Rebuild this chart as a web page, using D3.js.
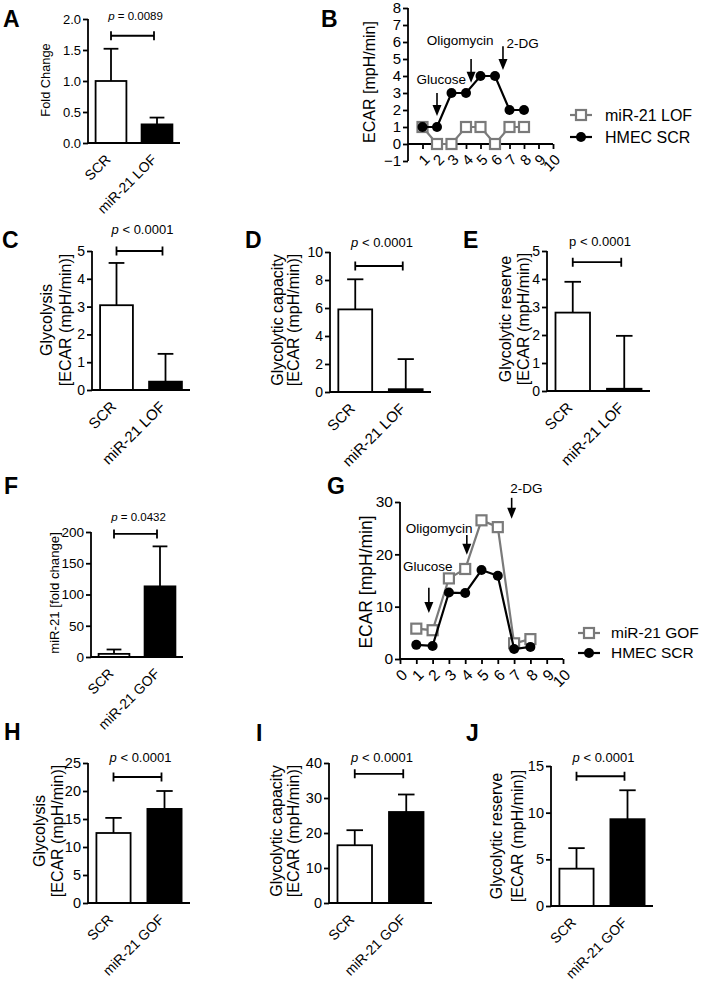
<!DOCTYPE html>
<html><head><meta charset="utf-8">
<script src="https://cdn.jsdelivr.net/npm/d3@7"></script>
<style>
body{margin:0;background:#fff;}
text{font-family:"Liberation Sans", Arial, sans-serif;fill:#000;}
</style></head><body>
<script>
// ---------------- data ----------------
const lofCategories = ["SCR", "miR-21 LOF"];
const gofCategories = ["SCR", "miR-21 GOF"];

const foldChangeMean = [1.0, 0.30];
const foldChangeSD   = [0.52, 0.11];
const glycolysisLOFMean = [3.05, 0.30];
const glycolysisLOFSD   = [1.52, 1.00];
const capacityLOFMean = [5.9, 0.2];
const capacityLOFSD   = [2.15, 2.15];
const reserveLOFMean = [2.8, 0.08];
const reserveLOFSD   = [1.1, 1.89];

const mir21GOFMean = [5, 113];
const mir21GOFSD   = [7, 64];
const glycolysisGOFMean = [12.5, 16.8];
const glycolysisGOFSD   = [2.7, 3.2];
const capacityGOFMean = [16.5, 26.0];
const capacityGOFSD   = [4.3, 5.0];
const reserveGOFMean = [4.0, 9.3];
const reserveGOFSD   = [2.2, 3.1];

const measurement = [1, 2, 3, 4, 5, 6, 7, 8];
const ecarLOF  = [1, 0, 0, 1, 1, 0, 1, 1];
const ecarSCRb = [1, 1, 3, 3, 4, 4, 2, 2];
const ecarGOF  = [5.8, 5.5, 15.4, 17.2, 26.5, 25.2, 3.0, 3.8];
const ecarSCRg = [2.7, 2.5, 12.7, 12.6, 17.0, 15.9, 1.9, 2.3];

const injections = ["Glucose", "Oligomycin", "2-DG"];
const injectionTimeB = [2, 4.35, 6.55];
const injectionTimeG = [1.77, 4.1, 6.85];

const xTicksB = [1, 2, 3, 4, 5, 6, 7, 8, 9, 10];
const xTicksG = [0, 1, 2, 3, 4, 5, 6, 7, 8, 9, 10];
const yTicksB = [-1, 0, 1, 2, 3, 4, 5, 6, 7, 8];
const yTicksG = [0, 10, 20, 30];

const pA = "0.0089", pF = "0.0432", pLow = "0.0001";

// ---------------- drawing ----------------
const svg = d3.select("body").append("svg").attr("width", 702).attr("height", 982);
const GRAY = "#7a7a7a";
const SW = 1.8;

function letter(t, x, y) {
  svg.append("text").attr("x", x).attr("y", y).text(t)
    .attr("font-size", 23).attr("font-weight", "bold");
}

function yLabel(lines, xs, cy, fs) {
  lines.forEach((l, i) => {
    svg.append("text").attr("transform", `translate(${xs[i]},${cy}) rotate(-90)`)
      .attr("text-anchor", "middle").attr("dy", "0.35em").attr("font-size", fs).text(l);
  });
}

function barPanel(o) {
  const g = svg.append("g");
  const y = d3.scaleLinear().domain(o.domain).range([o.y0, o.y1]);
  const x = d3.scaleBand().domain(o.cats).range([o.x0, o.x1]).paddingInner(0.33).paddingOuter(0.165);
  const bw = x.bandwidth();
  const cx = d => x(d) + bw / 2;
  // error bars (upper)
  const eb = g.selectAll("g.eb").data(o.cats).join("g");
  eb.append("line").attr("x1", cx).attr("x2", cx)
    .attr("y1", (d, i) => y(o.mean[i])).attr("y2", (d, i) => y(o.mean[i] + o.sd[i]))
    .attr("stroke", "#000").attr("stroke-width", SW);
  eb.append("line").attr("x1", d => cx(d) - bw * 0.24).attr("x2", d => cx(d) + bw * 0.24)
    .attr("y1", (d, i) => y(o.mean[i] + o.sd[i])).attr("y2", (d, i) => y(o.mean[i] + o.sd[i]))
    .attr("stroke", "#000").attr("stroke-width", SW);
  // bars
  g.selectAll("rect.bar").data(o.cats).join("rect")
    .attr("x", d => x(d)).attr("width", bw)
    .attr("y", (d, i) => y(o.mean[i])).attr("height", (d, i) => y(0) - y(o.mean[i]))
    .attr("fill", (d, i) => i ? "#000" : "#fff").attr("stroke", "#000").attr("stroke-width", SW);
  // y axis
  const ax = g.append("g").attr("transform", `translate(${o.x0},0)`)
    .call(d3.axisLeft(y).tickValues(o.ticks).tickSize(5).tickPadding(2).tickFormat(o.fmt || d3.format("d")));
  ax.select(".domain").attr("stroke-width", SW).attr("d", `M0,${o.y0}V${o.y1}`);
  ax.selectAll(".tick line").attr("stroke-width", SW);
  ax.selectAll(".tick text").attr("font-size", o.tfs).attr("font-family", "Liberation Sans, Arial");
  // x baseline
  g.append("line").attr("x1", o.x0).attr("x2", o.x1).attr("y1", y(0)).attr("y2", y(0))
    .attr("stroke", "#000").attr("stroke-width", SW);
  // category labels
  g.selectAll("text.cat").data(o.cats).join("text")
    .attr("transform", d => `translate(${cx(d) - 3},${y(0) + 14}) rotate(-45)`)
    .attr("text-anchor", "end").attr("dy", "0.35em").attr("font-size", o.cfs).text(d => d);
  // bracket
  const by = y(o.bracket), bx1 = cx(o.cats[0]), bx2 = cx(o.cats[1]) - 3;
  g.append("path").attr("d", `M${bx1},${by - 4.5}V${by + 4.5}M${bx1},${by}H${bx2}M${bx2},${by - 4.5}V${by + 4.5}`)
    .attr("stroke", "#000").attr("stroke-width", SW).attr("fill", "none");
  const t = g.append("text").attr("x", (bx1 + bx2) / 2 + 3).attr("y", by - o.pGap)
    .attr("text-anchor", "middle").attr("font-size", o.pfs);
  t.append("tspan").attr("font-style", o.italic === false ? "normal" : "italic").text("p");
  t.append("tspan").text(" " + o.p);
}

function linePanel(o) {
  const g = svg.append("g");
  const x = d3.scaleLinear().domain([0, 10]).range([o.x0, o.x1]);
  const y = d3.scaleLinear().domain(o.domain).range([o.y0, o.y1]);
  // axes
  const ay = g.append("g").attr("transform", `translate(${o.x0},0)`)
    .call(d3.axisLeft(y).tickValues(o.yTicks).tickSize(5).tickPadding(2).tickFormat(d3.format("d")));
  ay.select(".domain").attr("stroke-width", SW).attr("d", `M0,${o.y0}V${o.y1}`);
  ay.selectAll(".tick line").attr("stroke-width", SW);
  ay.selectAll(".tick text").attr("font-size", o.tfs).attr("font-family", "Liberation Sans, Arial");
  const axx = g.append("g").attr("transform", `translate(0,${y(0)})`)
    .call(d3.axisBottom(x).tickValues(o.xTicks).tickSize(5).tickPadding(2).tickFormat(d3.format("d")));
  axx.select(".domain").attr("stroke-width", SW).attr("d", `M${o.x0},0H${o.x1}`);
  axx.selectAll(".tick line").attr("stroke-width", SW);
  axx.selectAll(".tick text").attr("font-size", o.tfs).attr("font-family", "Liberation Sans, Arial")
    .attr("text-anchor", "end").attr("dy", "0.35em")
    .attr("transform", "translate(4,13) rotate(-45)").attr("y", 0);
  // series
  const line = d3.line().x((d, i) => x(measurement[i])).y(d => y(d));
  g.append("path").datum(o.gray).attr("d", line).attr("fill", "none").attr("stroke", GRAY).attr("stroke-width", 2.2);
  g.selectAll("rect.sq").data(o.gray).join("rect")
    .attr("x", (d, i) => x(measurement[i]) - 5).attr("y", d => y(d) - 5).attr("width", 10).attr("height", 10)
    .attr("fill", "#fff").attr("stroke", GRAY).attr("stroke-width", 2.2);
  g.append("path").datum(o.black).attr("d", line).attr("fill", "none").attr("stroke", "#000").attr("stroke-width", 2.2);
  g.selectAll("circle.dot").data(o.black).join("circle")
    .attr("cx", (d, i) => x(measurement[i])).attr("cy", d => y(d)).attr("r", 5).attr("fill", "#000");
  // injection arrows
  injections.forEach((name, i) => {
    const a = o.arrows[i];
    const ax_ = x(o.times[i]);
    g.append("line").attr("x1", ax_).attr("x2", ax_).attr("y1", y(a.from)).attr("y2", y(a.to) - 8)
      .attr("stroke", "#000").attr("stroke-width", 1.6);
    g.append("path").attr("d", `M${ax_ - 4.5},${y(a.to) - 11}L${ax_ + 4.5},${y(a.to) - 11}L${ax_},${y(a.to)}Z`).attr("fill", "#000");
    g.append("text").attr("x", x(a.tx)).attr("y", y(a.ty)).attr("text-anchor", a.anchor || "middle")
      .attr("dy", "0.35em").attr("font-size", 13.5).text(name);
  });
  // legend
  o.legend.forEach((l, i) => {
    const ly = o.ly + i * o.lgap;
    g.append("line").attr("x1", o.lx).attr("x2", o.lx + 22).attr("y1", ly).attr("y2", ly)
      .attr("stroke", i ? "#000" : GRAY).attr("stroke-width", 2.2);
    if (i === 0) g.append("rect").attr("x", o.lx + 6).attr("y", ly - 5).attr("width", 10).attr("height", 10)
      .attr("fill", "#fff").attr("stroke", GRAY).attr("stroke-width", 2.2);
    else g.append("circle").attr("cx", o.lx + 11).attr("cy", ly).attr("r", 5).attr("fill", "#000");
    g.append("text").attr("x", o.lx + o.ltx).attr("y", ly).attr("dy", "0.35em").attr("font-size", o.lfs).text(l);
  });
}

// ---- Panel A ----
letter("A", 3, 27);
barPanel({x0: 88, x1: 180, y0: 143, y1: 19, domain: [0, 2], ticks: [0, 0.5, 1, 1.5, 2], fmt: d3.format(".1f"),
  cats: lofCategories, mean: foldChangeMean, sd: foldChangeSD, bracket: 1.73, pGap: 16, p: "= " + pA,
  tfs: 13, cfs: 14, pfs: 11.5});
yLabel(["Fold Change"], [46], 80, 12.8);

// ---- Panel B ----
letter("B", 321, 27);
linePanel({x0: 408, x1: 553, y0: 161, y1: 8, domain: [-1, 8], yTicks: yTicksB, xTicks: xTicksB, tfs: 15,
  gray: ecarLOF, black: ecarSCRb, times: injectionTimeB,
  arrows: [{from: 3.0, to: 1.65, tx: 2.3, ty: 3.8}, {from: 5.0, to: 3.6, tx: 3.6, ty: 6.1}, {from: 5.75, to: 4.35, tx: 6.8, ty: 5.9, anchor: "start"}],
  legend: ["miR-21 LOF", "HMEC SCR"], lx: 570, ly: 115, lgap: 22, ltx: 35, lfs: 16});
yLabel(["ECAR [mpH/min]"], [369], 82, 16);

// ---- Panel C ----
letter("C", 2, 248);
barPanel({x0: 92, x1: 190, y0: 390, y1: 251, domain: [0, 5], ticks: [0, 1, 2, 3, 4, 5],
  cats: lofCategories, mean: glycolysisLOFMean, sd: glycolysisLOFSD, bracket: 5, pGap: 17, p: "< " + pLow,
  tfs: 14, cfs: 15, pfs: 13});
yLabel(["Glycolysis", "[ECAR (mpH/min)]"], [46, 65], 320, 16);

// ---- Panel D ----
letter("D", 245, 248);
barPanel({x0: 330, x1: 431, y0: 392, y1: 252, domain: [0, 10], ticks: [0, 2, 4, 6, 8, 10],
  cats: lofCategories, mean: capacityLOFMean, sd: capacityLOFSD, bracket: 9, pGap: 19, p: "< " + pLow,
  tfs: 14, cfs: 15, pfs: 13});
yLabel(["Glycolytic capacity", "[ECAR (mpH/min)]"], [277, 293], 320, 16);

// ---- Panel E ----
letter("E", 463, 248);
barPanel({x0: 547, x1: 650, y0: 391, y1: 251, domain: [0, 5], ticks: [0, 1, 2, 3, 4, 5],
  cats: lofCategories, mean: reserveLOFMean, sd: reserveLOFSD, bracket: 4.6, pGap: 16, p: "< " + pLow, italic: false,
  tfs: 14, cfs: 15, pfs: 13});
yLabel(["Glycolytic reserve", "[ECAR (mpH/min)]"], [505, 523], 319, 16);

// ---- Panel F ----
letter("F", 4, 494);
barPanel({x0: 91, x1: 183, y0: 657, y1: 532, domain: [0, 200], ticks: [0, 50, 100, 150, 200],
  cats: gofCategories, mean: mir21GOFMean, sd: mir21GOFSD, bracket: 197, pGap: 13, p: "= " + pF,
  tfs: 13.5, cfs: 14, pfs: 11.5});
yLabel(["miR-21 [fold change]"], [54], 593, 13.2);

// ---- Panel G ----
letter("G", 327, 494);
linePanel({x0: 400, x1: 563, y0: 659, y1: 502, domain: [0, 30], yTicks: yTicksG, xTicks: xTicksG, tfs: 15.5,
  gray: ecarGOF, black: ecarSCRg, times: injectionTimeG,
  arrows: [{from: 13.6, to: 8.8, tx: 1.71, ty: 17.8}, {from: 23.7, to: 19.9, tx: 2.4, ty: 24.9}, {from: 30.8, to: 26.8, tx: 7.75, ty: 32.6}],
  legend: ["miR-21 GOF", "HMEC SCR"], lx: 578, ly: 633, lgap: 20, ltx: 33, lfs: 15.5});
yLabel(["ECAR [mpH/min]"], [366], 582, 17.5);

// ---- Panel H ----
letter("H", 4, 740);
barPanel({x0: 88, x1: 190, y0: 903, y1: 763, domain: [0, 25], ticks: [0, 5, 10, 15, 20, 25],
  cats: gofCategories, mean: glycolysisGOFMean, sd: glycolysisGOFSD, bracket: 22.5, pGap: 15, p: "< " + pLow,
  tfs: 14.5, cfs: 14, pfs: 13});
yLabel(["Glycolysis", "[ECAR (mpH/min)]"], [39, 57], 831, 16);

// ---- Panel I ----
letter("I", 256, 741);
barPanel({x0: 329, x1: 432, y0: 903, y1: 763, domain: [0, 40], ticks: [0, 10, 20, 30, 40],
  cats: gofCategories, mean: capacityGOFMean, sd: capacityGOFSD, bracket: 36.9, pGap: 12, p: "< " + pLow,
  tfs: 14.5, cfs: 14, pfs: 13});
yLabel(["Glycolytic capacity", "[ECAR (mpH/min)]"], [276, 293], 831, 16);

// ---- Panel J ----
letter("J", 466, 741);
barPanel({x0: 551, x1: 653, y0: 906, y1: 766, domain: [0, 15], ticks: [0, 5, 10, 15],
  cats: gofCategories, mean: reserveGOFMean, sd: reserveGOFSD, bracket: 13.9, pGap: 14, p: "< " + pLow,
  tfs: 14.5, cfs: 14, pfs: 13});
yLabel(["Glycolytic reserve", "[ECAR (mpH/min)]"], [496, 517], 836, 16);
</script>
</body></html>
